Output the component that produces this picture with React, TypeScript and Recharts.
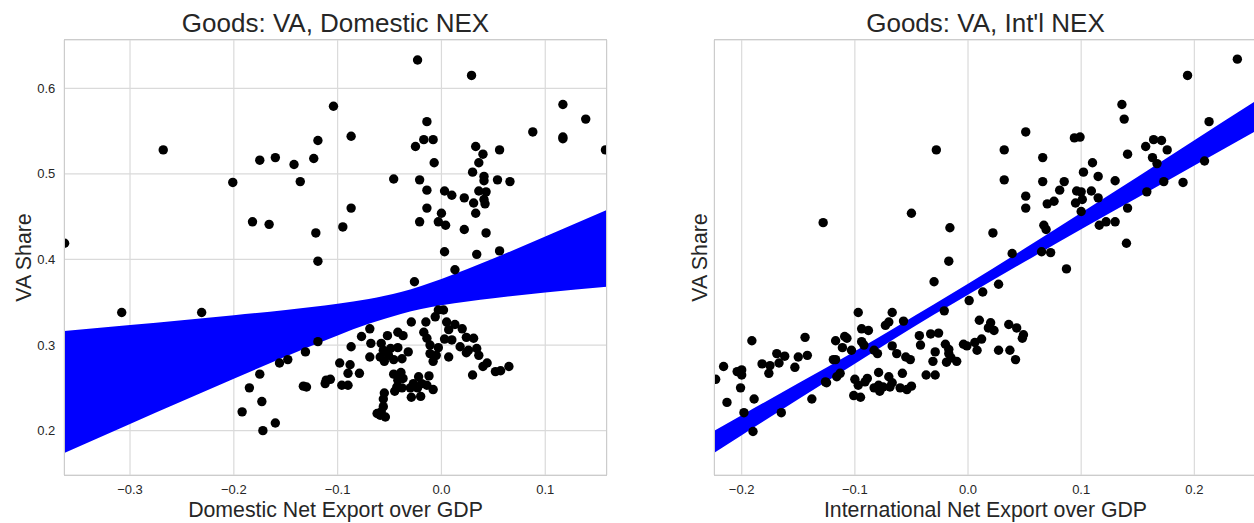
import { ComposedChart, Scatter, Area, XAxis, YAxis, CartesianGrid } from 'recharts'

// VA share vs domestic net export over GDP (x, y)
const domesticPoints: [number, number][] = [
  [-0.104, 0.579], [-0.119, 0.539], [-0.268, 0.528], [-0.175, 0.516], [-0.160, 0.519], [-0.142, 0.511],
  [-0.123, 0.518], [-0.201, 0.490], [-0.136, 0.491], [-0.182, 0.444], [-0.166, 0.441], [-0.121, 0.431],
  [-0.095, 0.438], [-0.119, 0.398], [-0.363, 0.419],
  [-0.023, 0.633], [0.029, 0.615], [0.117, 0.581], [0.139, 0.564], [-0.014, 0.561], [-0.087, 0.544],
  [0.088, 0.549], [0.117, 0.543], [0.117, 0.541], [0.158, 0.528], [-0.017, 0.540], [-0.008, 0.540],
  [-0.025, 0.532], [0.033, 0.532], [0.040, 0.523], [0.056, 0.528], [-0.007, 0.513], [0.036, 0.513],
  [0.030, 0.502], [-0.046, 0.494], [-0.021, 0.493], [0.041, 0.497], [0.041, 0.492], [0.054, 0.493],
  [0.066, 0.491], [-0.014, 0.481], [0.003, 0.480], [0.010, 0.475], [0.022, 0.472], [0.036, 0.480],
  [0.043, 0.479], [0.041, 0.470], [0.031, 0.466], [0.042, 0.465], [0.033, 0.454], [-0.014, 0.460],
  [0.000, 0.454], [-0.087, 0.460], [-0.021, 0.444], [-0.003, 0.444], [0.004, 0.440], [0.022, 0.435],
  [0.043, 0.431], [0.003, 0.409], [0.034, 0.406], [0.056, 0.410], [0.013, 0.388], [-0.026, 0.374],
  [-0.003, 0.341], [0.002, 0.341], [-0.029, 0.327], [-0.015, 0.327], [-0.006, 0.333], [0.005, 0.327],
  [0.007, 0.318], [0.013, 0.324], [0.020, 0.319], [-0.069, 0.319], [-0.077, 0.310], [-0.052, 0.311],
  [-0.042, 0.315], [-0.037, 0.311], [-0.017, 0.315], [-0.014, 0.308], [0.003, 0.307], [0.010, 0.306],
  [0.024, 0.309], [0.031, 0.308], [-0.087, 0.298], [-0.068, 0.302], [-0.058, 0.302], [-0.056, 0.294],
  [-0.049, 0.296], [-0.042, 0.297], [-0.032, 0.292], [-0.011, 0.300], [-0.003, 0.297], [0.018, 0.298],
  [0.026, 0.294], [0.034, 0.296], [-0.069, 0.286], [-0.059, 0.286], [-0.051, 0.288], [-0.046, 0.283],
  [-0.038, 0.284], [-0.011, 0.290], [-0.005, 0.288], [0.007, 0.286], [0.024, 0.291], [0.036, 0.288],
  [-0.055, 0.281], [-0.008, 0.281], [-0.098, 0.279], [-0.088, 0.277], [0.040, 0.275], [0.044, 0.279],
  [0.052, 0.269], [0.057, 0.270], [0.065, 0.275], [-0.090, 0.267], [-0.079, 0.267], [0.030, 0.265],
  [-0.107, 0.260], [-0.046, 0.266], [-0.039, 0.268], [-0.042, 0.259], [-0.037, 0.261], [-0.022, 0.263],
  [-0.012, 0.264], [-0.096, 0.253], [-0.090, 0.253], [-0.043, 0.251], [-0.038, 0.250], [-0.027, 0.255],
  [-0.019, 0.255], [-0.014, 0.253], [-0.008, 0.248], [-0.045, 0.246], [-0.030, 0.250], [-0.023, 0.250],
  [-0.029, 0.239], [-0.020, 0.240], [-0.055, 0.244], [-0.056, 0.237], [-0.056, 0.228], [-0.058, 0.222],
  [-0.062, 0.220], [-0.054, 0.216], [-0.059, 0.218],
  [-0.308, 0.338], [-0.231, 0.338], [-0.175, 0.266], [-0.185, 0.250], [-0.173, 0.234], [-0.192, 0.222],
  [-0.160, 0.209], [-0.172, 0.200], [-0.133, 0.252], [-0.130, 0.251], [-0.111, 0.259], [-0.112, 0.255],
  [-0.131, 0.292], [-0.148, 0.283], [-0.156, 0.279], [-0.119, 0.304],
]

// VA share vs international net export over GDP (x, y)
const intlPoints: [number, number][] = [
  [-0.028, 0.528], [-0.128, 0.443], [-0.050, 0.454], [-0.016, 0.437], [0.022, 0.431], [-0.017, 0.398],
  [0.238, 0.634], [0.194, 0.615], [0.136, 0.581], [0.138, 0.564], [0.213, 0.561], [0.051, 0.549],
  [0.094, 0.542], [0.099, 0.543], [0.032, 0.528], [0.066, 0.519], [0.141, 0.523], [0.157, 0.532],
  [0.164, 0.540], [0.171, 0.539], [0.176, 0.528], [0.163, 0.519], [0.110, 0.513], [0.102, 0.502],
  [0.115, 0.497], [0.032, 0.493], [0.066, 0.491], [0.085, 0.491], [0.130, 0.492], [0.190, 0.490],
  [0.209, 0.515], [0.173, 0.491], [0.167, 0.512], [0.081, 0.481], [0.096, 0.480], [0.100, 0.479],
  [0.109, 0.480], [0.115, 0.472], [0.101, 0.470], [0.095, 0.466], [0.076, 0.468], [0.070, 0.465],
  [0.051, 0.474], [0.051, 0.460], [0.141, 0.460], [0.158, 0.479], [0.100, 0.456], [0.067, 0.440],
  [0.069, 0.435], [0.116, 0.440], [0.122, 0.444], [0.130, 0.444], [0.140, 0.419], [0.039, 0.407],
  [0.065, 0.409], [0.073, 0.408], [0.087, 0.389],
  [-0.030, 0.374], [0.027, 0.371], [0.013, 0.362], [0.001, 0.352], [-0.021, 0.340], [0.010, 0.329],
  [0.020, 0.326], [0.018, 0.320], [0.023, 0.317], [0.036, 0.324], [0.043, 0.320], [0.049, 0.312],
  [0.048, 0.308], [0.012, 0.307], [-0.004, 0.301], [-0.001, 0.299], [0.006, 0.303], [0.008, 0.294],
  [0.027, 0.294], [0.037, 0.294], [0.042, 0.283],
  [-0.097, 0.338], [-0.067, 0.338], [-0.094, 0.319], [-0.088, 0.317], [-0.073, 0.323], [-0.070, 0.327],
  [-0.057, 0.328], [-0.191, 0.305], [-0.144, 0.309], [-0.117, 0.305], [-0.109, 0.310], [-0.107, 0.308],
  [-0.111, 0.297], [-0.103, 0.294], [-0.094, 0.304], [-0.092, 0.300], [-0.083, 0.294], [-0.080, 0.290],
  [-0.067, 0.299], [-0.063, 0.290], [-0.055, 0.286], [-0.051, 0.283], [-0.043, 0.311], [-0.033, 0.313],
  [-0.026, 0.314], [-0.042, 0.300], [-0.020, 0.301], [-0.017, 0.295], [-0.017, 0.290], [-0.015, 0.285],
  [-0.029, 0.292], [-0.031, 0.281], [-0.019, 0.280], [-0.010, 0.281], [-0.037, 0.265], [-0.029, 0.265],
  [-0.223, 0.260], [-0.216, 0.275], [-0.213, 0.233], [-0.204, 0.269], [-0.200, 0.271], [-0.200, 0.265],
  [-0.201, 0.250], [-0.189, 0.237], [-0.198, 0.221], [-0.190, 0.199], [-0.165, 0.221], [-0.138, 0.237],
  [-0.182, 0.278], [-0.175, 0.276], [-0.169, 0.290], [-0.167, 0.279], [-0.162, 0.287], [-0.176, 0.267],
  [-0.153, 0.274], [-0.150, 0.286], [-0.142, 0.288], [-0.125, 0.256], [-0.116, 0.263], [-0.117, 0.283],
  [-0.113, 0.267], [-0.100, 0.260], [-0.097, 0.253], [-0.091, 0.257], [-0.089, 0.261], [-0.083, 0.250],
  [-0.079, 0.253], [-0.078, 0.246], [-0.075, 0.251], [-0.069, 0.251], [-0.070, 0.263], [-0.067, 0.256],
  [-0.079, 0.268], [-0.058, 0.267], [-0.060, 0.250], [-0.054, 0.248], [-0.050, 0.252], [-0.101, 0.241],
  [-0.095, 0.239], [-0.126, 0.257], [-0.119, 0.283],
]

// regression confidence bands
const domBandX = [-0.3633, -0.3, -0.25, -0.2, -0.15, -0.1, -0.07, -0.039, 0, 0.025, 0.05, 0.1, 0.1592]
const domBandLow = [0.1739, 0.2077, 0.2343, 0.2607, 0.2866, 0.3113, 0.3248, 0.3364, 0.3465, 0.351, 0.3547, 0.3613, 0.3682]
const domBandHigh = [0.3165, 0.3234, 0.329, 0.3348, 0.341, 0.3482, 0.3539, 0.3621, 0.3773, 0.3889, 0.4011, 0.4268, 0.4577]

const intlBandX = [-0.2242, -0.2, -0.15, -0.1, -0.03, 0, 0.05, 0.1, 0.15, 0.2, 0.2551]
const intlBandLow = [0.1743, 0.1947, 0.2367, 0.2782, 0.3356, 0.3588, 0.3973, 0.4352, 0.4723, 0.5098, 0.5507]
const intlBandHigh = [0.2, 0.2181, 0.2554, 0.2929, 0.3478, 0.3715, 0.4127, 0.4546, 0.4966, 0.5393, 0.586]

const domXTicks = [-0.3, -0.2, -0.1, 0, 0.1]
const intlXTicks = [-0.2, -0.1, 0, 0.1, 0.2]
const yTicks = [0.2, 0.3, 0.4, 0.5, 0.6]

const Y_DOMAIN: [number, number] = [0.1482, 0.6564]
const TEXT = '#262626'
const fmt = (v: number) => v.toFixed(1).replace('-', '\u2212')

const Dot = (props: any) => <circle cx={props.cx} cy={props.cy} r={4.7} fill="#000" />

interface PanelProps {
  left: number
  width: number
  plotLeft: number
  plotRight: number
  points: [number, number][]
  bandX: number[]
  bandLow: number[]
  bandHigh: number[]
  xDomain: [number, number]
  xTicks: number[]
  showYTicks: boolean
}

function Panel({ left, width, plotLeft, plotRight, points, bandX, bandLow, bandHigh, xDomain, xTicks, showYTicks }: PanelProps) {
  const data = points.map(([x, y]) => ({ x, y }))
  const bandData = bandX.map((x, i) => ({ x, band: [bandLow[i], bandHigh[i]] }))
  return (
    <div style={{ position: 'absolute', left, top: 0 }}>
      <ComposedChart width={width} height={523} margin={{ top: 40, right: width - plotRight, bottom: 0, left: 0 }}>
        <CartesianGrid stroke="#dadada" strokeWidth={1.2} />
        <XAxis
          type="number"
          dataKey="x"
          domain={xDomain}
          ticks={xTicks}
          interval={0}
          allowDataOverflow
          tickFormatter={fmt}
          tickLine={false}
          axisLine={false}
          tickSize={0}
          tickMargin={10}
          height={48}
          tick={{ fontSize: 13, fill: TEXT }}
        />
        <YAxis
          type="number"
          domain={Y_DOMAIN}
          ticks={yTicks}
          interval={0}
          allowDataOverflow
          width={plotLeft}
          tickFormatter={(v: number) => v.toFixed(1)}
          tickLine={false}
          axisLine={false}
          tickSize={0}
          tickMargin={9}
          tick={showYTicks ? { fontSize: 13, fill: TEXT } : false}
        />
        <Scatter data={data} dataKey="y" shape={Dot} isAnimationActive={false} />
        <Area
          data={bandData}
          dataKey="band"
          type="monotone"
          stroke="none"
          fill="#0000ff"
          fillOpacity={1}
          dot={false}
          activeDot={false}
          isAnimationActive={false}
        />
      </ComposedChart>
      <div
        style={{
          position: 'absolute',
          left: plotLeft - 0.6,
          top: 39.4,
          width: plotRight - plotLeft + 1.2,
          height: 436.2,
          border: '1.2px solid #cccccc',
          boxSizing: 'border-box',
          pointerEvents: 'none',
        }}
      />
    </div>
  )
}

export default function App() {
  return (
    <div
      style={{
        position: 'absolute',
        left: 0,
        top: 0,
        width: 1254,
        height: 523,
        overflow: 'hidden',
        background: '#fff',
        fontFamily: '"Liberation Sans", Arial, sans-serif',
      }}
    >
      <Panel
        left={0}
        width={620}
        plotLeft={64.3}
        plotRight={606.7}
        points={domesticPoints}
        bandX={domBandX}
        bandLow={domBandLow}
        bandHigh={domBandHigh}
        xDomain={[-0.3633, 0.1592]}
        xTicks={domXTicks}
        showYTicks
      />
      <Panel
        left={620}
        width={640}
        plotLeft={94.3}
        plotRight={636.7}
        points={intlPoints}
        bandX={intlBandX}
        bandLow={intlBandLow}
        bandHigh={intlBandHigh}
        xDomain={[-0.2242, 0.2551]}
        xTicks={intlXTicks}
        showYTicks={false}
      />
      <svg width={1254} height={523} style={{ position: 'absolute', left: 0, top: 0, pointerEvents: 'none' }}>
        <g fill={TEXT} textAnchor="middle">
          <text x={335.5} y={32.3} fontSize={26}>Goods: VA, Domestic NEX</text>
          <text x={985.5} y={32.3} fontSize={26}>Goods: VA, Int'l NEX</text>
          <text x={335.5} y={517} fontSize={21.3}>Domestic Net Export over GDP</text>
          <text x={985.5} y={517} fontSize={21.3}>International Net Export over GDP</text>
          <text transform="translate(31,257.5) rotate(-90)" fontSize={21.3}>VA Share</text>
          <text transform="translate(707,257.5) rotate(-90)" fontSize={21.3}>VA Share</text>
        </g>
      </svg>
    </div>
  )
}
